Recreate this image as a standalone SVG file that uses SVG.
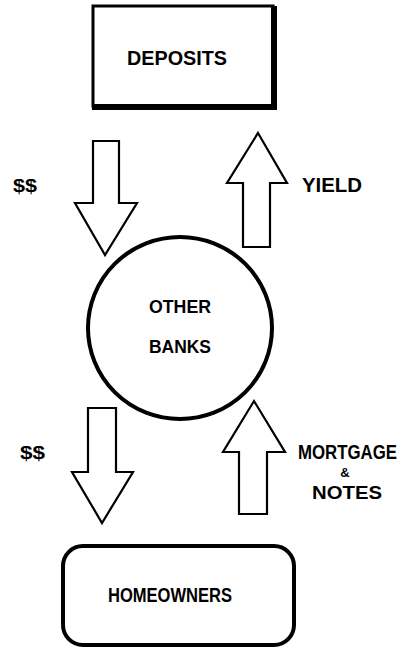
<svg xmlns="http://www.w3.org/2000/svg" width="416" height="648" viewBox="0 0 416 648">
  <style>
    .lbl { font-family: "Liberation Sans", "DejaVu Sans", sans-serif; font-weight: bold; fill: #000; }
    .box { fill: #fff; stroke: #000; }
    .arrow { fill: #fff; stroke: #000; stroke-width: 2.2; stroke-linejoin: miter; }
  </style>
  <rect width="416" height="648" fill="#fff"/>

  <!-- Deposits: box with heavy right/bottom shadow edge -->
  <g id="deposits">
    <rect class="box" x="93" y="6" width="180" height="100" stroke-width="3"/>
    <line x1="274" y1="6" x2="274" y2="110" stroke="#000" stroke-width="6"/>
    <line x1="92" y1="107" x2="277" y2="107" stroke="#000" stroke-width="6"/>
    <text class="lbl" x="127" y="65" font-size="21" textLength="100" lengthAdjust="spacingAndGlyphs">DEPOSITS</text>
  </g>

  <!-- Other banks: central circle -->
  <g id="other-banks">
    <ellipse class="box" cx="180" cy="328" rx="92" ry="91" stroke-width="4"/>
    <text class="lbl" x="149" y="313" font-size="19" textLength="62" lengthAdjust="spacingAndGlyphs">OTHER</text>
    <text class="lbl" x="149" y="353" font-size="19" textLength="62" lengthAdjust="spacingAndGlyphs">BANKS</text>
  </g>

  <!-- Homeowners: rounded box -->
  <g id="homeowners">
    <rect class="box" x="63" y="546" width="231" height="99" rx="20" ry="20" stroke-width="4"/>
    <text class="lbl" x="108" y="602" font-size="20" textLength="124" lengthAdjust="spacingAndGlyphs">HOMEOWNERS</text>
  </g>

  <!-- Block arrows and their labels -->
  <g id="connectors">
    <polygon class="arrow" points="93,141 119,141 119,203 137,203 105,255 75,203 93,203"/>
    <text class="lbl" x="13" y="192" font-size="19" textLength="24" lengthAdjust="spacingAndGlyphs">$$</text>

    <polygon class="arrow" points="258,133 287,183 270,183 270,247 243,247 243,183 227,183"/>
    <text class="lbl" x="302" y="192" font-size="20" textLength="60" lengthAdjust="spacingAndGlyphs">YIELD</text>

    <polygon class="arrow" points="88,408 116,408 116,472 133,472 102,523 72,472 88,472"/>
    <text class="lbl" x="20" y="459" font-size="19" textLength="25" lengthAdjust="spacingAndGlyphs">$$</text>

    <polygon class="arrow" points="254,401 285,452 267,452 267,514 239,514 239,452 223,452"/>
    <text class="lbl" x="298" y="459" font-size="20" textLength="99" lengthAdjust="spacingAndGlyphs">MORTGAGE</text>
    <text class="lbl" x="345" y="477" font-size="13" text-anchor="middle">&amp;</text>
    <text class="lbl" x="312" y="499" font-size="18" textLength="70" lengthAdjust="spacingAndGlyphs">NOTES</text>
  </g>
</svg>
